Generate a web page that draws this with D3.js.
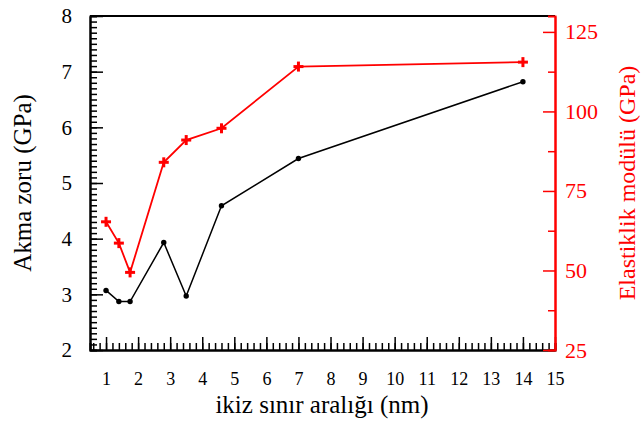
<!DOCTYPE html>
<html><head><meta charset="utf-8">
<script src="https://cdn.jsdelivr.net/npm/d3@7"></script>
<style>
body{margin:0;background:#fff;}
svg{display:block;font-family:"Liberation Serif","Times New Roman",serif;}
</style></head><body>
<svg id="c" width="641" height="424"></svg>
<script>
const spacing = [1, 1.4, 1.75, 2.8, 3.5, 4.6, 7, 14];
const yieldStress = [3.07, 2.87, 2.87, 3.93, 2.97, 4.59, 5.44, 6.82];
const modulus = [65.3, 58.6, 49.4, 84.0, 91.0, 94.7, 114.1, 115.5];
const xTicks = [1,2,3,4,5,6,7,8,9,10,11,12,13,14,15];
const yLeftTicks = [2,3,4,5,6,7,8];
const yRightTicks = [25,50,75,100,125];
const xTitle = "ikiz sınır aralığı (nm)";
const yLeftTitle = "Akma zoru (GPa)";
const yRightTitle = "Elastiklik modülü (GPa)";

const L=90, R=555, T=16, B=350;
const RED="#ff0000";
const svg=d3.select("#c");
const x=d3.scaleLinear().domain([0.5,15]).range([L,R]);
const yl=d3.scaleLinear().domain([2,8]).range([B,T]);
const yr=d3.scaleLinear().domain([25,130]).range([B,T]);

function style(g,color,fs){
  g.selectAll("line").attr("stroke",color).attr("stroke-width",1.5);
  g.selectAll("path.domain").attr("stroke",color).attr("stroke-width",2);
  g.selectAll("text").attr("fill",color).attr("font-size",fs).attr("font-family","Liberation Serif");
}

// top frame
svg.append("line").attr("x1",L).attr("x2",R).attr("y1",T).attr("y2",T).attr("stroke","#000").attr("stroke-width",2);

// bottom axis
const xMinor=d3.range(0.6,15.0001,0.2).map(v=>+v.toFixed(2));
let g=svg.append("g").attr("transform",`translate(0,${B})`)
  .call(d3.axisBottom(x).tickValues(xMinor).tickSize(-7).tickFormat(""));
style(g,"#000",18);
g=svg.append("g").attr("transform",`translate(0,${B})`)
  .call(d3.axisBottom(x).tickValues(xTicks).tickSizeInner(-13).tickSizeOuter(0).tickPadding(22).tickFormat(d3.format("d")));
style(g,"#000",18);

// left axis
const ylMinor=d3.range(2.1,8,0.1).map(v=>+v.toFixed(2));
g=svg.append("g").attr("transform",`translate(${L},0)`)
  .call(d3.axisLeft(yl).tickValues(ylMinor).tickSize(-7).tickFormat(""));
style(g,"#000",21);
g=svg.append("g").attr("transform",`translate(${L},0)`)
  .call(d3.axisLeft(yl).tickValues(yLeftTicks).tickSizeInner(-13).tickSizeOuter(0).tickPadding(18).tickFormat(d3.format("d")));
style(g,"#000",21);

// right axis
const yrMinor=[37.5,62.5,87.5,112.5];
g=svg.append("g").attr("transform",`translate(${R},0)`)
  .call(d3.axisRight(yr).tickValues(yrMinor).tickSize(-7).tickFormat(""));
style(g,RED,22);
g=svg.append("g").attr("transform",`translate(${R},0)`)
  .call(d3.axisRight(yr).tickValues(yRightTicks).tickSizeInner(-12).tickSizeOuter(0).tickPadding(10).tickFormat(d3.format("d")));
style(g,RED,22);

// black series
const data1=spacing.map((s,i)=>[s,yieldStress[i]]);
svg.append("path").datum(data1).attr("fill","none").attr("stroke","#000").attr("stroke-width",1.5)
  .attr("d",d3.line().x(d=>x(d[0])).y(d=>yl(d[1])));
svg.selectAll("circle.p").data(data1).enter().append("circle")
  .attr("cx",d=>x(d[0])).attr("cy",d=>yl(d[1])).attr("r",2.7).attr("fill","#000");

// red series
const data2=spacing.map((s,i)=>[s,modulus[i]]);
svg.append("path").datum(data2).attr("fill","none").attr("stroke",RED).attr("stroke-width",1.8)
  .attr("d",d3.line().x(d=>x(d[0])).y(d=>yr(d[1])));
const plus=svg.selectAll("g.plus").data(data2).enter().append("g")
  .attr("transform",d=>`translate(${x(d[0])},${yr(d[1])})`);
plus.append("line").attr("x1",-5).attr("x2",5).attr("stroke",RED).attr("stroke-width",3);
plus.append("line").attr("y1",-5).attr("y2",5).attr("stroke",RED).attr("stroke-width",3);

// titles
svg.append("text").attr("x",322).attr("y",413).attr("text-anchor","middle")
  .attr("font-size",25).text(xTitle);
svg.append("text").attr("transform",`translate(31,${(T+B)/2}) rotate(-90)`).attr("text-anchor","middle")
  .attr("font-size",25).text(yLeftTitle);
svg.append("text").attr("transform",`translate(635,${(T+B)/2}) rotate(-90)`).attr("text-anchor","middle")
  .attr("font-size",24).attr("fill",RED).text(yRightTitle);
</script></body></html>
